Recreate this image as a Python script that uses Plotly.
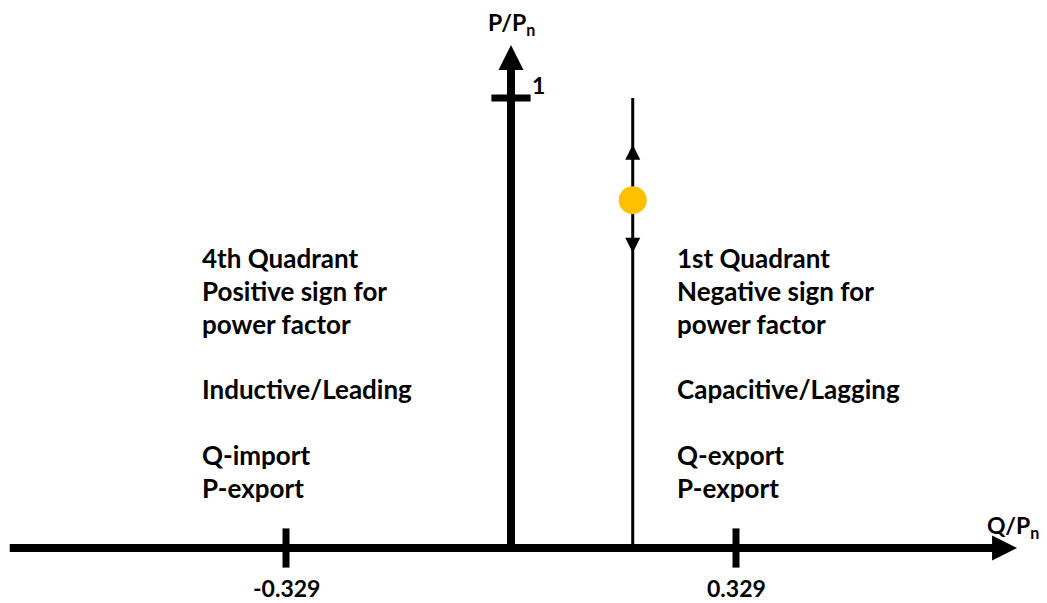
import plotly.graph_objects as go

# ---- data ----
q_ticks = [-0.329, 0.329]
q_tick_labels = ["-0.329", "0.329"]
p_ticks = [1.0]
p_tick_labels = ["1"]
q_axis_extent = [-0.733, 0.740]
p_axis_extent = [0.0, 1.118]
op_q = 0.178
op_line_p = [0.0, 1.0]
op_point_p = 0.773
op_arrow_up_p = 0.896
op_arrow_down_p = 0.656

left_text = ["4th Quadrant", "Positive sign for", "power factor", "", "Inductive/Leading", "", "Q-import", "P-export"]
right_text = ["1st Quadrant", "Negative sign for", "power factor", "", "Capacitive/Lagging", "", "Q-export", "P-export"]
text_pos_q = [-0.4545, 0.2405]

FONT = "Lato"
BLACK = "#000000"

# page-pixel helpers (page has 8px body margin)
PX_Q = 0.329 / 225.0   # data units per pixel in Q
PX_P = 1.0 / 450.0     # data units per pixel in P

fig = go.Figure()

# main axes (shafts)
fig.add_trace(go.Scatter(x=[q_axis_extent[0], q_axis_extent[1] - 0.02], y=[0, 0], mode="lines",
                         line=dict(color=BLACK, width=8), hoverinfo="skip"))
fig.add_trace(go.Scatter(x=[0, 0], y=[p_axis_extent[0], p_axis_extent[1] - 0.03], mode="lines",
                         line=dict(color=BLACK, width=8), hoverinfo="skip"))
# arrowheads
fig.add_trace(go.Scatter(x=[q_axis_extent[1]], y=[0], mode="markers",
                         marker=dict(symbol="arrow-right", size=25, color=BLACK, line=dict(width=0)), hoverinfo="skip"))
fig.add_trace(go.Scatter(x=[0], y=[p_axis_extent[1]], mode="markers",
                         marker=dict(symbol="arrow-up", size=25, color=BLACK, line=dict(width=0)), hoverinfo="skip"))
# ticks
fig.add_trace(go.Scatter(x=q_ticks, y=[0] * len(q_ticks), mode="markers",
                         marker=dict(symbol="line-ns", size=28, line=dict(color=BLACK, width=7)), hoverinfo="skip"))
fig.add_trace(go.Scatter(x=[0] * len(p_ticks), y=p_ticks, mode="markers",
                         marker=dict(symbol="line-ew", size=28, line=dict(color=BLACK, width=7)), hoverinfo="skip"))
# operating line
fig.add_trace(go.Scatter(x=[op_q, op_q], y=op_line_p, mode="lines",
                         line=dict(color=BLACK, width=3), hoverinfo="skip"))
fig.add_trace(go.Scatter(x=[op_q], y=[op_arrow_up_p], mode="markers",
                         marker=dict(symbol="arrow-up", size=15, color=BLACK, line=dict(width=0)), hoverinfo="skip"))
fig.add_trace(go.Scatter(x=[op_q], y=[op_arrow_down_p], mode="markers",
                         marker=dict(symbol="arrow-down", size=15, color=BLACK, line=dict(width=0)), hoverinfo="skip"))
fig.add_trace(go.Scatter(x=[op_q], y=[op_point_p], mode="markers",
                         marker=dict(symbol="circle", size=28, color="#FFC000", line=dict(width=0)), hoverinfo="skip"))

ann = []
lab_font = dict(family=FONT, size=23, color=BLACK, weight="bold")
for q, t in zip(q_ticks, q_tick_labels):
    ann.append(dict(x=q, y=0, xref="x", yref="y", text=t, showarrow=False,
                    xanchor="center", yanchor="middle", yshift=-40, font=lab_font))
for p, t in zip(p_ticks, p_tick_labels):
    ann.append(dict(x=0, y=p, xref="x", yref="y", text=t, showarrow=False,
                    xanchor="center", yanchor="middle", xshift=27, yshift=13, font=lab_font))
ann.append(dict(x=0, y=p_axis_extent[1], xref="x", yref="y", text="P/P<sub>n</sub>", showarrow=False,
                xanchor="center", yanchor="middle", yshift=21, font=lab_font))
ann.append(dict(x=q_axis_extent[1], y=0, xref="x", yref="y", text="Q/P<sub>n</sub>", showarrow=False,
                xanchor="center", yanchor="middle", yshift=22, xshift=-4, font=lab_font))

blk_font = dict(family=FONT, size=26, color=BLACK, weight="bold")
first_line_center_px = 258
line_gap_px = 32.8
for q, lines in zip(text_pos_q, [left_text, right_text]):
    for i, t in enumerate(lines):
        if not t:
            continue
        ypx = first_line_center_px + i * line_gap_px
        ann.append(dict(x=q, y=(548 - ypx) * PX_P, xref="x", yref="y", text=t, showarrow=False,
                        xanchor="left", yanchor="middle", align="left", font=blk_font))

fig.update_layout(
    width=1039, height=595,
    margin=dict(l=0, r=0, t=0, b=0),
    paper_bgcolor="white", plot_bgcolor="white",
    showlegend=False,
    xaxis=dict(range=[(8 - 511) * PX_Q, (1047 - 511) * PX_Q], visible=False, fixedrange=True),
    yaxis=dict(range=[(548 - 603) * PX_P, (548 - 8) * PX_P], visible=False, fixedrange=True),
    annotations=ann,
)

fig.write_html("out.html")
